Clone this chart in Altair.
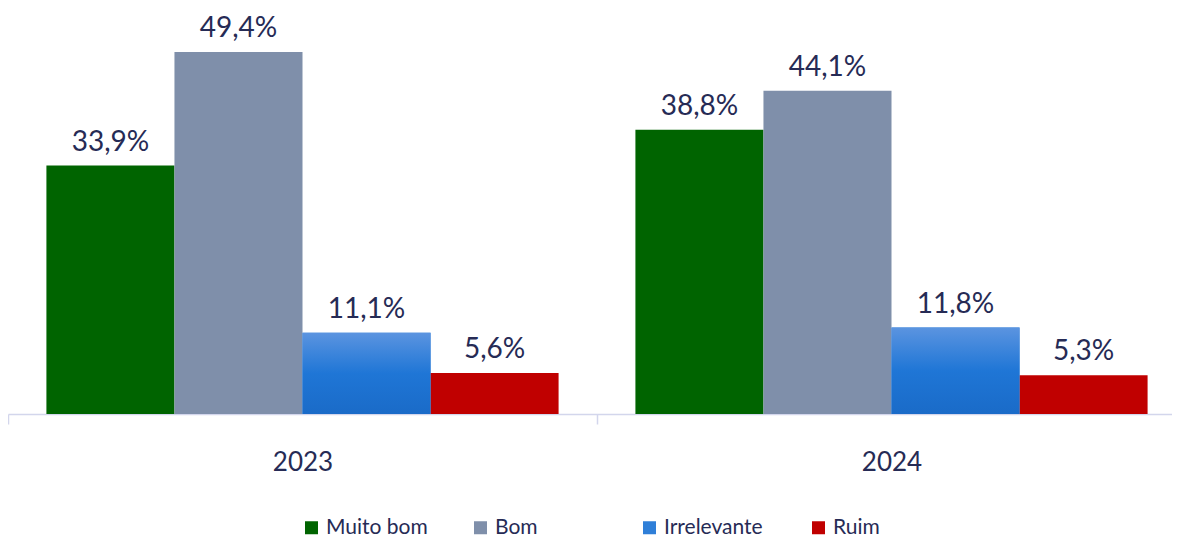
import altair as alt
import pandas as pd

years = ["2023", "2023", "2023", "2023", "2024", "2024", "2024", "2024"]
categories = ["Muito bom", "Bom", "Irrelevante", "Ruim"] * 2
values = [33.9, 49.4, 11.1, 5.6, 38.8, 44.1, 11.8, 5.3]
labels = ["33,9%", "49,4%", "11,1%", "5,6%", "38,8%", "44,1%", "11,8%", "5,3%"]
order = ["Muito bom", "Bom", "Irrelevante", "Ruim"]
colors = ["#006400", "#7f8faa", "#2f7fd8", "#c00000"]

df = pd.DataFrame({"ano": years, "cat": categories, "valor": values, "rotulo": labels})

TEXT = "#262b55"
AXIS = "#d3d6ec"

x = alt.X(
    "ano:N",
    scale=alt.Scale(range=[0, 1178], paddingInner=0, paddingOuter=0),
    axis=alt.Axis(
        title=None, labelAngle=0, labelFontSize=26, labelColor=TEXT, labelFont="Lato",
        domainColor=AXIS, domainWidth=1.5, tickColor=AXIS, tickWidth=1.5, tickSize=10,
        tickBand="extent", labelPadding=25, grid=False,
    ),
)
xo = alt.XOffset("cat:N", sort=order, scale=alt.Scale(paddingInner=0, paddingOuter=0.3))
y = alt.Y("valor:Q", scale=alt.Scale(domain=[0, 55.4], nice=False), axis=None)

base = alt.Chart(df)

bars = base.mark_bar(strokeWidth=0).encode(
    x=x, xOffset=xo, y=y,
    color=alt.Color(
        "cat:N", sort=order, scale=alt.Scale(domain=order, range=colors),
        legend=alt.Legend(
            title=None, orient="none", legendX=293, legendY=509, direction="horizontal",
            columns=4, gridAlign="all", symbolType="square", symbolSize=169,
            symbolStrokeWidth=0, labelFontSize=21, labelColor=TEXT, labelFont="Lato",
            columnPadding=42, labelOffset=4,
        ),
    ),
)

grad = base.transform_filter(alt.datum.cat == "Irrelevante").mark_bar(
    strokeWidth=0,
    color=alt.Gradient(
        gradient="linear",
        stops=[alt.GradientStop(color="#5b94e0", offset=0), alt.GradientStop(color="#1f76d6", offset=0.5),
               alt.GradientStop(color="#1a6bc8", offset=1)],
        x1=0, x2=0, y1=0, y2=1,
    ),
).encode(x=x, xOffset=xo, y=y)

text = base.mark_text(baseline="alphabetic", dy=-15, fontSize=28, color=TEXT, font="Lato").encode(
    x=x, xOffset=xo, y=y, text="rotulo:N"
)

chart = (
    alt.layer(bars, grad, text)
    .properties(width=1164, height=406, padding={"left": 0, "top": 0, "right": 0, "bottom": 123},
                autosize="none", view=alt.ViewBackground(stroke=None, fill=None))
    .configure_view(stroke=None, fill=None)
)

chart.save("out.html", embed_options={"renderer": "svg", "actions": False})
